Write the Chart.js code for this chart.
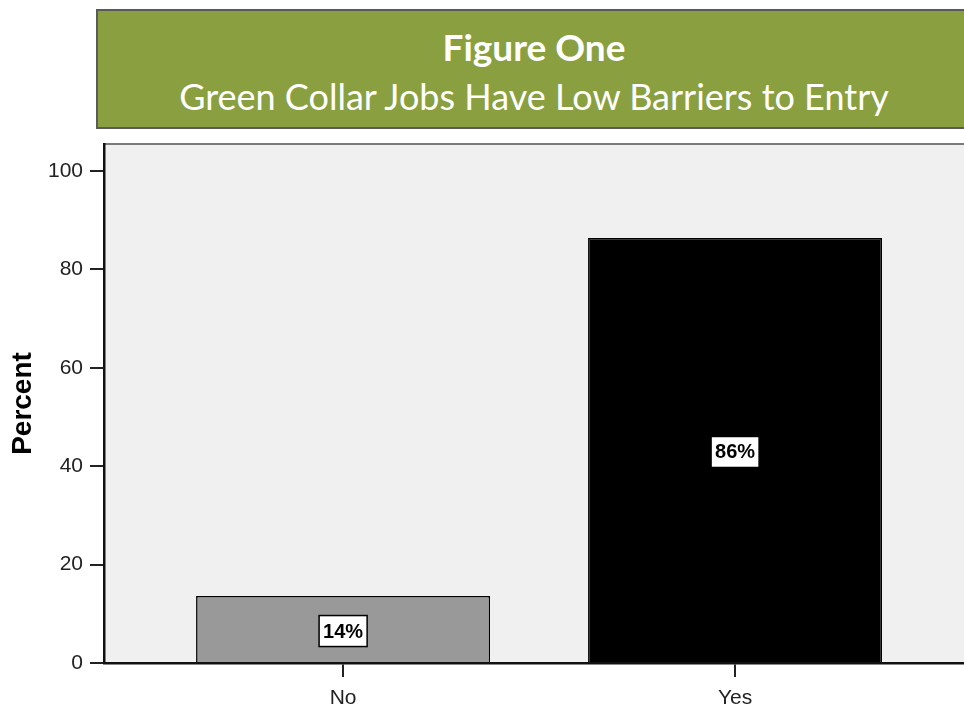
<!DOCTYPE html>
<html>
<head>
<meta charset="utf-8">
<script src="https://cdn.jsdelivr.net/npm/chart.js@4.4.1/dist/chart.umd.min.js"></script>
<style>
  html, body { margin: 0; padding: 0; background: #fff; overflow: hidden; }
  #wrap { position: relative; width: 964px; height: 707px; }
  #title {
    position: absolute; left: 96px; top: 9px; width: 872px; height: 116px;
    background: #8aa040; border: 2px solid #5a5a5a; box-sizing: content-box;
    color: #fff; text-align: center; font-family: Lato, 'Open Sans', sans-serif;
  }
  #title .l1 { font-weight: bold; font-size: 37px; margin-top: 16px; line-height: 40px; }
  #title .l2 { font-size: 36px; line-height: 46px; margin-top: 6px; }
  canvas { position: absolute; left: 0; top: 0; }
</style>
</head>
<body>
<div id="wrap">
  <canvas id="chart" width="964" height="707"></canvas>
  <div id="title"><div class="l1">Figure One</div><div class="l2">Green Collar Jobs Have Low Barriers to Entry</div></div>
</div>
<script>
const categories = ['No', 'Yes']
const percents = [13.6, 86.4]
const barColors = ['#999999', '#000000']
const yTicks = [0, 20, 40, 60, 80, 100]

const fontFamily = '"Liberation Sans", Arial, sans-serif'

// plot background + grey top frame line
const frame = {
  id: 'frame',
  beforeDraw(chart) {
    const { ctx, chartArea: a } = chart
    ctx.save()
    ctx.fillStyle = '#f0f0f0'
    ctx.fillRect(a.left, a.top, a.right - a.left, a.bottom - a.top)
    ctx.strokeStyle = '#7a7a7a'
    ctx.lineWidth = 2
    ctx.beginPath()
    ctx.moveTo(a.left, a.top)
    ctx.lineTo(a.right, a.top)
    ctx.stroke()
    ctx.restore()
  },
}

// boxed percentage label in the middle of each bar
const boxLabels = {
  id: 'boxLabels',
  afterDatasetsDraw(chart) {
    const { ctx } = chart
    const meta = chart.getDatasetMeta(0)
    ctx.save()
    ctx.font = 'bold 20px ' + fontFamily
    ctx.textAlign = 'center'
    ctx.textBaseline = 'middle'
    meta.data.forEach((bar, i) => {
      const text = Math.round(percents[i]) + '%'
      const cy = (bar.y + bar.base) / 2 + 2
      const w = ctx.measureText(text).width + 8
      const h = 31
      ctx.fillStyle = '#fff'
      ctx.fillRect(bar.x - w / 2, cy - h / 2, w, h)
      ctx.strokeStyle = '#000'
      ctx.lineWidth = 1.5
      ctx.strokeRect(bar.x - w / 2, cy - h / 2, w, h)
      ctx.fillStyle = '#000'
      ctx.fillText(text, bar.x, cy + 1)
    })
    ctx.restore()
  },
}

new Chart(document.getElementById('chart'), {
  type: 'bar',
  data: {
    datasets: [{
      data: categories.map((c, i) => ({ x: i, y: percents[i] })),
      backgroundColor: barColors,
      borderColor: '#000',
      borderWidth: 1.5,
      borderSkipped: 'bottom',
      categoryPercentage: 0.75,
      barPercentage: 1,
    }],
  },
  options: {
    responsive: false,
    animation: false,
    layout: { padding: { top: 144, left: 0, right: 0, bottom: 0 } },
    plugins: { legend: { display: false }, tooltip: { enabled: false } },
    scales: {
      x: {
        type: 'linear',
        offset: false,
        min: -0.61,
        max: 1.584,
        afterFit: (s) => { s.height = 44 },
        afterBuildTicks: (s) => { s.ticks = categories.map((c, i) => ({ value: i })) },
        ticks: {
          callback: (v) => categories[v],
          color: '#222',
          font: { family: fontFamily, size: 21 },
          padding: 9,
          maxRotation: 0,
        },
        grid: { offset: false, drawOnChartArea: false, drawTicks: true, tickLength: 14, color: '#222', lineWidth: 2 },
        border: { display: true, color: '#111', width: 2.5 },
      },
      y: {
        min: 0,
        max: 105.5,
        afterFit: (s) => { s.width = 104 },
        afterBuildTicks: (s) => { s.ticks = yTicks.map((v) => ({ value: v })) },
        ticks: {
          color: '#222',
          font: { family: fontFamily, size: 21 },
          padding: 7,
        },
        grid: { drawOnChartArea: false, drawTicks: true, tickLength: 14, color: '#222', lineWidth: 2 },
        border: { display: true, color: '#111', width: 2.5 },
        title: {
          display: true,
          text: 'Percent',
          color: '#000',
          font: { family: fontFamily, size: 28, weight: 'bold' },
          padding: { top: 6, bottom: 0 },
        },
      },
    },
  },
  plugins: [frame, boxLabels],
})
</script>
</body>
</html>
